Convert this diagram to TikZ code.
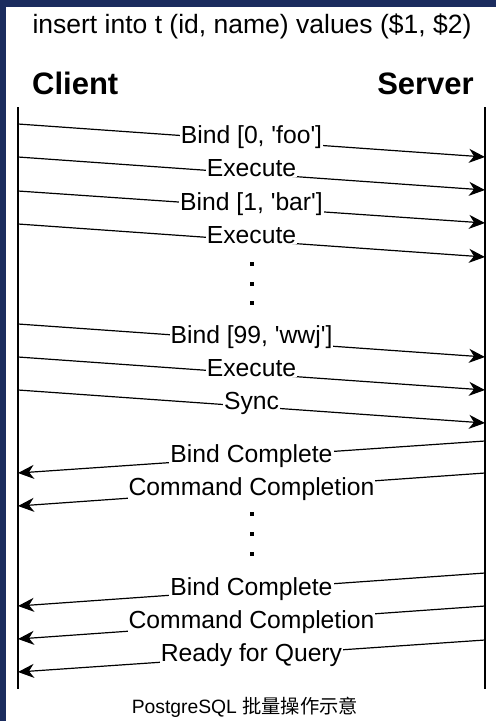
\documentclass[tikz,border=0pt]{standalone}
\usepackage{fontspec}
\setmainfont{Liberation Sans}
\newfontfamily\cjk{Noto Sans CJK SC}
\usetikzlibrary{arrows.meta,calc}
\definecolor{navy}{RGB}{27,44,94}
\newcommand{\sq}{\textquotesingle}
\begin{document}
\begin{tikzpicture}[x=1pt,y=-1pt,
  lifeline/.style={line width=1.5pt},
  msg/.style={line width=1.2pt,-{Stealth[length=16pt,width=14pt,inset=5pt]}},
  lbl/.style={fill=white,inner xsep=1pt,inner ysep=0pt,anchor=base,font=\fontsize{24.7}{29}\selectfont},
  dotbox/.style={fill=black,rectangle,minimum size=4pt,inner sep=0pt},
  party/.style={font=\fontsize{31}{36}\selectfont\bfseries,inner sep=0pt}]
% background
\fill[navy] (0,0) rectangle (496,721);
\fill[white] (6,7) rectangle (496,721);
\useasboundingbox (0,0) rectangle (496,721);
% title and parties
\node[anchor=base,inner sep=0pt,font=\fontsize{26.5}{31}\selectfont] (title) at (252,33) {insert into t (id, name) values (\$1, \$2)};
\node[party,anchor=base west] (client) at (32,94) {Client};
\node[party,anchor=base east] (server) at (474,94) {Server};
% lifelines
\coordinate (ctop) at (18,107);
\coordinate (cbot) at (18,689);
\coordinate (stop) at (485,107);
\coordinate (sbot) at (485,689);
\draw[lifeline] (ctop) -- (cbot);
\draw[lifeline] (stop) -- (sbot);
% client -> server messages
\foreach \n/\ya/\yb/\t in {1/124/157/{Bind [0, \sq foo\sq]},
                           2/157/190/{Execute},
                           3/191/223/{Bind [1, \sq bar\sq]},
                           4/224/257/{Execute},
                           5/324/357/{Bind [99, \sq wwj\sq]},
                           6/357/390/{Execute},
                           7/390/423/{Sync}}{
  \coordinate (c\n) at (18,\ya);
  \coordinate (s\n) at (485,\yb);
  \draw[msg] (c\n) -- (s\n);
  \node[lbl] (m\n) at ($(c\n)!0.5!(s\n)+(0,3.2)$) {\t};
}
% server -> client messages
\foreach \n/\ya/\yb/\t in {8/441/473/{Bind Complete},
                           9/473/506/{Command Completion},
                           10/573/606/{Bind Complete},
                           11/606/639/{Command Completion},
                           12/640/672/{Ready for Query}}{
  \coordinate (s\n) at (485,\ya);
  \coordinate (c\n) at (18,\yb);
  \draw[msg] (s\n) -- (c\n);
  \node[lbl] (m\n) at ($(c\n)!0.5!(s\n)+(0,5.5)$) {\t};
}
% ellipsis dots
\foreach \i/\y in {1/264,2/284,3/303,4/514,5/534,6/554}{
  \node[dotbox] (d\i) at (251.5,\y) {};
}
% caption
\node[anchor=base,inner sep=0pt,font=\fontsize{19.3}{23}\selectfont] (caption) at (245,713) {PostgreSQL {\cjk 批量操作示意}};
\end{tikzpicture}
\end{document}
